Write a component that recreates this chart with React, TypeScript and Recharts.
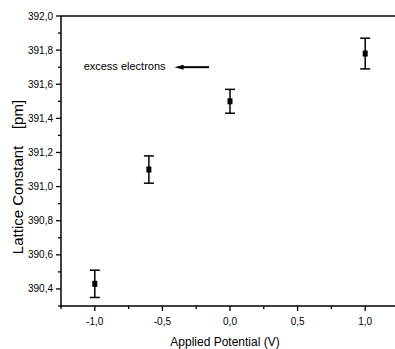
import React from 'react';
import {
  ComposedChart,
  Scatter,
  ErrorBar,
  XAxis,
  YAxis,
  ReferenceLine,
  Label,
} from 'recharts';

// measured points
const potential = [-1.0, -0.6, 0.0, 1.0];
const lattice = [390.43, 391.1, 391.5, 391.78];
const latticeErr = [0.08, 0.08, 0.07, 0.09];

const xTicks = [-1.25, -1.0, -0.75, -0.5, -0.25, 0, 0.25, 0.5, 0.75, 1.0];
const yTicks = [390.3, 390.4, 390.5, 390.6, 390.7, 390.8, 390.9, 391.0, 391.1, 391.2, 391.3, 391.4, 391.5, 391.6, 391.7, 391.8, 391.9, 392.0];

// annotation: "excess electrons" with an arrow
const arrowY = 391.7;
const arrowFrom = -0.155;
const arrowTo = -0.41;

const data = potential.map((x, i) => ({ x, y: lattice[i], err: latticeErr[i] }));

const FONT = '"Liberation Sans", Arial, sans-serif';
const fmt = (v: number) => v.toFixed(1).replace('.', ',');

const XTick = (props: any) => {
  const { x, y, payload } = props;
  const major = Math.round(payload.value * 4) % 2 === 0;
  return (
    <g>
      <line x1={x} x2={x} y1={y} y2={y + (major ? 5 : 3)} stroke="#000" strokeWidth={1.3} />
      {major && (
        <text x={x} y={y + 19} textAnchor="middle" fontSize={10} fontFamily={FONT} fill="#000">
          {fmt(payload.value)}
        </text>
      )}
    </g>
  );
};

const YTick = (props: any) => {
  const { x, y, payload } = props;
  const major = Math.round(payload.value * 10) % 2 === 0;
  return (
    <g>
      <line x1={x} x2={x - (major ? 5 : 3)} y1={y} y2={y} stroke="#000" strokeWidth={1.3} />
      {major && (
        <text x={x - 8} y={y + 3.5} textAnchor="end" fontSize={10} fontFamily={FONT} fill="#000">
          {fmt(payload.value)}
        </text>
      )}
    </g>
  );
};

const SquareDot = (props: any) => {
  const { cx, cy } = props;
  return <rect x={cx - 2.5} y={cy - 3} width={5} height={6} fill="#000" />;
};

const Arrow = (props: any) => {
  const { x1, y1, x2, y2 } = props;
  const tip = Math.min(x1, x2);
  const tail = Math.max(x1, x2);
  const y = (y1 + y2) / 2;
  return (
    <g>
      <line x1={tail} x2={tip + 6} y1={y} y2={y} stroke="#000" strokeWidth={2} />
      <polygon points={`${tip},${y} ${tip + 9},${y - 2.5} ${tip + 9},${y + 2.5}`} fill="#000" />
      <text x={tip - 9} y={y + 3} textAnchor="end" fontSize={11} fontFamily={FONT} fill="#000">
        excess electrons
      </text>
    </g>
  );
};

export default function App() {
  return (
    <div style={{ position: 'absolute', left: 0, top: 0, width: 395, height: 349, overflow: 'hidden', background: '#fff' }}>
      <ComposedChart width={405} height={349} data={data} margin={{ top: 16, right: 6, bottom: 0, left: 0 }}>
        <XAxis
          type="number"
          dataKey="x"
          domain={[-1.25, 1.25]}
          ticks={xTicks}
          interval={0}
          tick={<XTick />}
          tickSize={0}
          tickMargin={0}
          axisLine={{ stroke: '#000', strokeWidth: 1.5 }}
          height={43}
        >
          <Label
            content={(p: any) => (
              <text x={p.viewBox.x + 164} y={p.viewBox.y + 40} textAnchor="middle" fontSize={12} fontFamily={FONT} fill="#000">
                Applied Potential (V)
              </text>
            )}
          />
        </XAxis>
        <YAxis
          type="number"
          domain={[390.3, 392.0]}
          ticks={yTicks}
          interval={0}
          tick={<YTick />}
          tickSize={0}
          tickMargin={0}
          axisLine={{ stroke: '#000', strokeWidth: 1.5 }}
          width={61}
        >
          <Label
            content={(p: any) => (
              <text
                transform={`translate(${p.viewBox.x + 23},${p.viewBox.y + 161}) rotate(-90)`}
                textAnchor="middle"
                fontSize={15}
                fontFamily={FONT}
                fill="#000"
                style={{ whiteSpace: 'pre' }}
              >
                {'Lattice Constant    [pm]'}
              </text>
            )}
          />
        </YAxis>
        <ReferenceLine y={392.0} stroke="#000" strokeWidth={1.5} />
        <ReferenceLine
          segment={[{ x: arrowFrom, y: arrowY }, { x: arrowTo, y: arrowY }]}
          shape={<Arrow />}
        />
        <Scatter dataKey="y" shape={<SquareDot />} isAnimationActive={false}>
          <ErrorBar dataKey="err" direction="y" width={5} stroke="#000" strokeWidth={1.5} />
        </Scatter>
      </ComposedChart>
    </div>
  );
}
